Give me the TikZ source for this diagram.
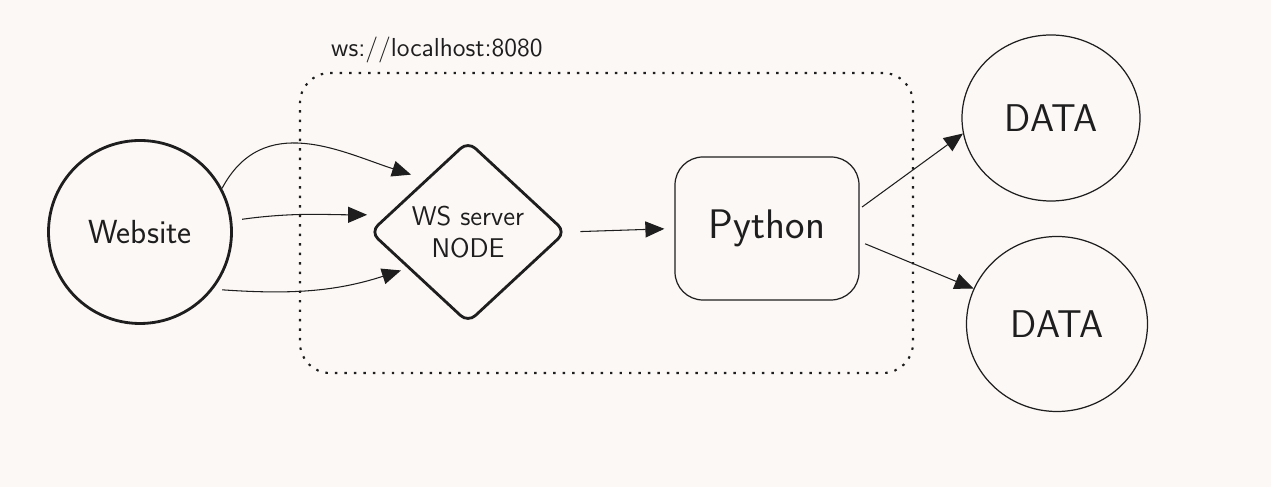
\documentclass[tikz,border=0pt]{standalone}
\usepackage{tikz}
\usetikzlibrary{arrows.meta,shapes.geometric}
\definecolor{papier}{RGB}{252,248,245}
\definecolor{inkt}{RGB}{30,30,30}
\tikzset{
    dik/.style={draw=inkt, line width=1.6pt},
    dun/.style={draw=inkt, line width=0.7pt},
    pijl/.style={-{Triangle[length=0.38cm,width=0.32cm]}, draw=inkt, line width=0.6pt},
}

\begin{document}
\begin{tikzpicture}[font=\sffamily, text=inkt]
    \fill[papier] (0,0) rectangle (25.42,-9.74);
    \useasboundingbox (0,0) rectangle (25.42,-9.74);

    \node[dik, circle, minimum size=3.66cm, font=\sffamily\fontsize{19}{21}\selectfont] (web) at (2.8,-4.64) {Website};
    \node[draw=inkt, line width=1.2pt, dash pattern=on 1.4pt off 4pt, rounded corners=0.6cm, minimum width=12.26cm, minimum height=6cm] (box) at (12.13,-4.46) {};
    \node[anchor=west, font=\sffamily\fontsize{14.8}{16}\selectfont] (url) at (6.5,-1.0) {ws://localhost:8080};
    \node[dik, diamond, rounded corners=0.2cm, inner sep=0pt, minimum width=3.92cm, minimum height=3.64cm, align=center, font=\sffamily\fontsize{15.4}{18}\selectfont] (ws) at (9.36,-4.64) {WS server\\NODE};
    \node[dun, rounded corners=0.56cm, minimum width=3.68cm, minimum height=2.86cm, font=\sffamily\fontsize{23.5}{26}\selectfont] (py) at (15.34,-4.57) {Python};
    \node[dun, ellipse, inner sep=0pt, minimum width=3.56cm, minimum height=3.32cm, font=\sffamily\fontsize{22}{24}\selectfont] (d1) at (21.02,-2.36) {DATA};
    \node[dun, ellipse, inner sep=0pt, minimum width=3.62cm, minimum height=3.5cm, font=\sffamily\fontsize{22}{24}\selectfont] (d2) at (21.14,-6.48) {DATA};

    \draw[pijl, shorten >=0.3cm] (web.28) to[out=62, in=162, looseness=1.1] (ws.129);
    \draw[pijl, shorten <=0.2cm, shorten >=0.4cm] (web.7) to[out=8, in=180] (ws.168);
    \draw[pijl, shorten <=0.18cm, shorten >=0.14cm] (web.-38) to[out=-4, in=198] (ws.211);
    \draw[pijl, shorten <=0.26cm, shorten >=0.2cm] (ws.east) -- (py.west);
    \draw[pijl, shorten <=0.06cm] (py.12.6) -- (d1.190);
    \draw[pijl, shorten <=0.12cm] (py.-8) -- (d2.157);
\end{tikzpicture}
\end{document}
